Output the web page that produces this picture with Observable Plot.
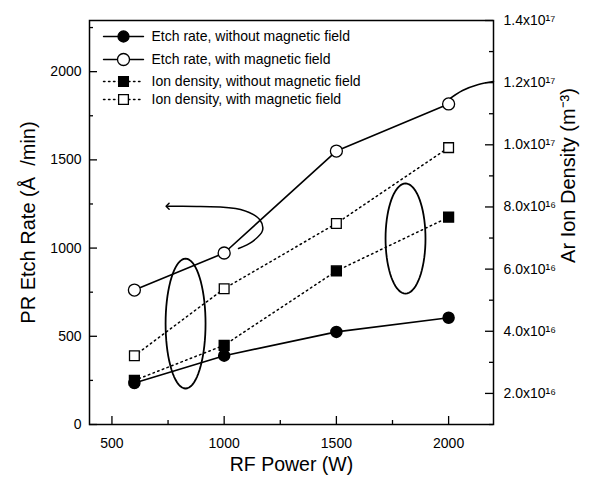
<!DOCTYPE html>
<html><head><meta charset="utf-8">
<script src="https://cdn.jsdelivr.net/npm/d3@7"></script>
<script src="https://cdn.jsdelivr.net/npm/@observablehq/plot@0.6"></script>
<style>body{margin:0;background:#fff}</style>
</head><body><div id="chart"></div>
<script>
// ---- data ----
const power = [600, 1000, 1500, 2000];                 // RF Power (W)
const etchNoField = [235, 390, 525, 605];              // PR etch rate (Å/min), without magnetic field
const etchField = [762, 972, 1550, 1817];              // PR etch rate (Å/min), with magnetic field
const ionNoField = [2.42e16, 3.55e16, 5.94e16, 7.67e16]; // Ar ion density (m^-3), without field
const ionField = [3.21e16, 5.37e16, 7.47e16, 9.91e16];   // Ar ion density (m^-3), with field

const xTicks = [500, 1000, 1500, 2000];
const xMinor = [750, 1250, 1750];
const yTicks = [0, 500, 1000, 1500, 2000];
const yMinor = [250, 750, 1250, 1750, 2250];
const densTicks = [2e16, 4e16, 6e16, 8e16, 1e17, 1.2e17, 1.4e17];
const densTickLabels = ["2.0x10¹⁶", "4.0x10¹⁶", "6.0x10¹⁶", "8.0x10¹⁶", "1.0x10¹⁷", "1.2x10¹⁷", "1.4x10¹⁷"];
const densMinor = [1e16, 3e16, 5e16, 7e16, 9e16, 1.1e17, 1.3e17];
const legendLabels = ["Etch rate, without magnetic field", "Etch rate, with magnetic field",
  "Ion density, without magnetic field", "Ion density, with magnetic field"];

// annotations (data units): ellipses and curved arrows
const ellipses = [{cx: 828, cy: 572, rx: 89, ry: 368}, {cx: 1808, cy: 1054, rx: 89, ry: 312}];
const arrowLeft = [[1064, 998], [1126, 1037], [1171, 1100], [1158, 1162], [1073, 1219], [895, 1236], [748, 1237]];
const arrowRight = [[1995, 1837], [2062, 1893], [2133, 1927], [2200, 1944]];

// ---- layout ----
const W = 602, H = 483, ML = 89, MR = 109, MT = 20, MB = 59;
const xDom = [400, 2200], yDom = [0, 2290], dDom = [1e16, 1.4e17];
const dToY = d => (d - dDom[0]) / (dDom[1] - dDom[0]) * (yDom[1] - yDom[0]) + yDom[0];
const xPerPx = (xDom[1] - xDom[0]) / (W - ML - MR);
const yPerPx = (yDom[1] - yDom[0]) / (H - MT - MB);
const pxX = px => xDom[0] + (px - ML) * xPerPx;
const pxY = py => yDom[0] + (H - MB - py) * yPerPx;

const rows = power.map((p, i) => ({p, en: etchNoField[i], ef: etchField[i], inf: dToY(ionNoField[i]), iff: dToY(ionField[i])}));

const ellipsePts = ellipses.flatMap((e, k) => d3.range(0, 73).map(j => {
  const t = j / 72 * 2 * Math.PI;
  return {k, x: e.cx + e.rx * Math.cos(t), y: e.cy + e.ry * Math.sin(t)};
}));

const densFmt = v => {
  const i = densTicks.findIndex(t => Math.abs(dToY(t) - v) < 1e-6);
  return i >= 0 ? densTickLabels[i] : "";
};

// inward ticks
const MAJ = 8, MIN = 4;
const tickMarks = [
  Plot.ruleX(xTicks, {y1: yDom[0], y2: yDom[0] + MAJ * yPerPx, stroke: "black", strokeWidth: 1.3}),
  Plot.ruleX(xMinor, {y1: yDom[0], y2: yDom[0] + MIN * yPerPx, stroke: "black", strokeWidth: 1.3}),
  Plot.ruleY(yTicks, {x1: xDom[0], x2: xDom[0] + MAJ * xPerPx, stroke: "black", strokeWidth: 1.3}),
  Plot.ruleY(yMinor, {x1: xDom[0], x2: xDom[0] + MIN * xPerPx, stroke: "black", strokeWidth: 1.3}),
  Plot.ruleY(densTicks.map(dToY), {x1: xDom[1] - MAJ * xPerPx, x2: xDom[1], stroke: "black", strokeWidth: 1.3}),
  Plot.ruleY(densMinor.map(dToY), {x1: xDom[1] - MIN * xPerPx, x2: xDom[1], stroke: "black", strokeWidth: 1.3})
];

// legend
const legendRowsPx = [36, 59, 81, 99];
const legendStyles = [
  {symbol: "circle", fill: "black", dash: null, r: 5.5},
  {symbol: "circle", fill: "white", dash: null, r: 6},
  {symbol: "square", fill: "black", dash: "1.5,3.5", r: 5.5},
  {symbol: "square", fill: "white", dash: "1.5,3.5", r: 5.5}
];
const legendMarks = legendLabels.flatMap((lab, i) => {
  const y = pxY(legendRowsPx[i]), s = legendStyles[i];
  return [
    Plot.line([[pxX(103), y], [pxX(143), y]], {stroke: "black", strokeWidth: 1.4, strokeDasharray: s.dash}),
    Plot.dot([[pxX(123), y]], {symbol: s.symbol, r: s.r, fill: s.fill, stroke: "black", strokeWidth: 1.3}),
    Plot.text([lab], {x: pxX(151), y, textAnchor: "start", fontSize: 14})
  ];
});

const chart = Plot.plot({
  width: W, height: H,
  marginLeft: ML, marginRight: MR, marginTop: MT, marginBottom: MB,
  style: {fontFamily: "'Liberation Sans', Arial, sans-serif", fontSize: "14px", color: "black", background: "white"},
  x: {domain: xDom},
  y: {domain: yDom},
  marks: [
    Plot.frame({stroke: "black", strokeWidth: 1.5}),
    ...tickMarks,
    Plot.axisX({ticks: xTicks, tickSize: 0, tickPadding: 14, label: null, fontSize: 14, tickFormat: d => String(d)}),
    Plot.axisY({ticks: yTicks, tickSize: 0, tickPadding: 8, label: null, fontSize: 14, tickFormat: d => String(d)}),
    Plot.axisY({anchor: "right", ticks: densTicks.map(dToY), tickSize: 0, tickPadding: 10, label: null, tickFormat: densFmt, fontSize: 14}),
    // axis titles
    Plot.text(["RF Power (W)"], {frameAnchor: "bottom", dy: 46, fontSize: 19.5}),
    Plot.text(["PR Etch Rate (Å  /min)"], {frameAnchor: "left", dx: -61, rotate: -90, textAnchor: "middle", fontSize: 20}),
    Plot.text(["Ar Ion Density (m⁻³)"], {frameAnchor: "right", dx: 75, dy: -47, rotate: -90, textAnchor: "middle", fontSize: 20}),
    // annotations
    Plot.line(ellipsePts, {x: "x", y: "y", z: "k", stroke: "black", strokeWidth: 1.8, curve: "linear"}),
    Plot.line(arrowLeft, {stroke: "black", strokeWidth: 1.5, curve: "catmull-rom", markerEnd: "arrow"}),
    Plot.line(arrowRight, {stroke: "black", strokeWidth: 1.5, curve: "catmull-rom"}),
    // series lines
    Plot.line(rows, {x: "p", y: "en", stroke: "black", strokeWidth: 1.6}),
    Plot.line(rows, {x: "p", y: "ef", stroke: "black", strokeWidth: 1.6}),
    Plot.line(rows, {x: "p", y: "inf", stroke: "black", strokeWidth: 1.5, strokeDasharray: "1.5,3.5"}),
    Plot.line(rows, {x: "p", y: "iff", stroke: "black", strokeWidth: 1.5, strokeDasharray: "1.5,3.5"}),
    // series markers
    Plot.dot(rows, {x: "p", y: "inf", symbol: "square", r: 5.5, fill: "black", stroke: "black"}),
    Plot.dot(rows, {x: "p", y: "iff", symbol: "square", r: 5.5, fill: "white", stroke: "black", strokeWidth: 1.3}),
    Plot.dot(rows, {x: "p", y: "en", r: 5.5, fill: "black", stroke: "black"}),
    Plot.dot(rows, {x: "p", y: "ef", r: 6, fill: "white", stroke: "black", strokeWidth: 1.3}),
    ...legendMarks
  ]
});
document.getElementById("chart").append(chart);
</script>
</body></html>
